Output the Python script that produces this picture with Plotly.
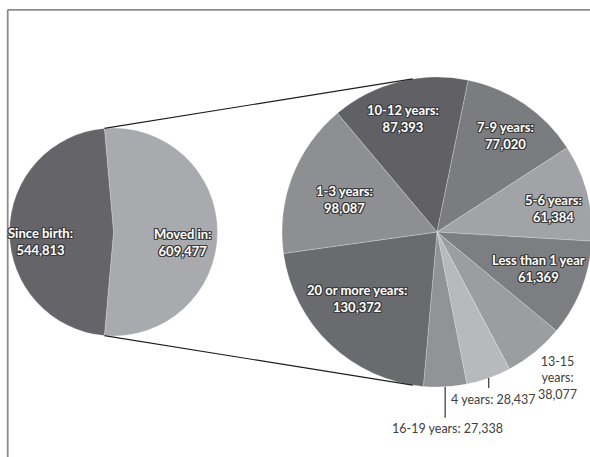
import math
import plotly.graph_objects as go

# ---- data ----
main_labels = ["Moved in", "Since birth"]
main_values = [609477, 544813]
main_text = ["Moved in:<br>609,477", "Since birth:<br>544,813"]

sub_labels = ["10-12 years", "7-9 years", "5-6 years", "Less than 1 year",
              "13-15 years", "4 years", "16-19 years", "20 or more years", "1-3 years"]
sub_values = [87393, 77020, 61384, 61369, 38077, 28437, 27338, 130372, 98087]
sub_text = ["10-12 years:<br>87,393", "7-9 years:<br>77,020", "5-6 years:<br>61,384",
            "Less than 1 year<br>61,369", "13-15<br>years:<br>38,077", "4 years: 28,437",
            "16-19 years: 27,338", "20 or more years:<br>130,372", "1-3 years:<br>98,087"]

# ---- styles / layout ----
W, H = 594, 457          # canvas slightly wider than the 590px window; overflow is hidden
LCX, LCY, LR = 113.5, 232, 104
RCX, RCY, RR = 437, 232, 155
main_colors = ["#a9aaad", "#646469"]
sub_colors = ["#606065", "#7b7c80", "#a2a3a6", "#7d7e82", "#9c9da0",
              "#b8b9bc", "#929396", "#6a6b6f", "#8e8f92"]
# label placement: (radius fraction, angle nudge in degrees) for inside labels
main_place = [(0.675, 8.2), (0.713, -7.7)]
sub_place = [(0.766, -2.2), (0.763, 1.3), (0.77, 3.3), (0.693, -1.6), None, None, None,
             (0.668, 6.6), (0.63, -1.5)]
# outside labels: slice index -> (text dx px, text dy px, leader length px)
outside_place = {4: (23, 26, 0), 5: (4.8, 21, 10), 6: (2.6, 42, 31)}
FONT = "Lato"
OUTLINE = "#3a3a3c"
shadow = ", ".join(f"{dx}px {dy}px 0px {OUTLINE}" for dx in (-1, 0, 1) for dy in (-1, 0, 1) if dx or dy)
inner_font = dict(family=FONT, size=13, color="white", weight="bold", shadow=shadow)
outer_font = dict(family=FONT, size=12.5, color="#404040")


def dom(cx, cy, r):
    return dict(x=[(cx - r) / W, min(1.0, (cx + r) / W)], y=[(H - cy - r) / H, (H - cy + r) / H])


def pxpt(cx, cy, r, ang):
    a = math.radians(ang)
    return cx + r * math.sin(a), cy - r * math.cos(a)


def paper(x, y):
    return x / W, 1 - y / H


def mid_angles(values, rotation):
    tot = sum(values)
    out, cum = [], 0
    for v in values:
        out.append(rotation + 360 * (cum + v / 2) / tot)
        cum += v
    return out


def label(x, y, txt, font):
    return dict(x=x, y=y, xref="paper", yref="paper", text=txt, showarrow=False,
                xanchor="center", yanchor="middle", align="center", font=font)


total = sum(main_values)
moved_frac = main_values[0] / total
rot_left = 90 - 180 * moved_frac
rot_right = -40

fig = go.Figure()
fig.add_trace(go.Pie(
    labels=main_labels, values=main_values, textinfo="none",
    sort=False, direction="clockwise", rotation=rot_left, domain=dom(LCX, LCY, LR),
    marker=dict(colors=main_colors, line=dict(color="rgba(255,255,255,0.4)", width=0.6)),
    hoverinfo="label+value", showlegend=False,
))
fig.add_trace(go.Pie(
    labels=sub_labels, values=sub_values, textinfo="none",
    sort=False, direction="clockwise", rotation=rot_right, domain=dom(RCX, RCY, RR),
    marker=dict(colors=sub_colors, line=dict(color="rgba(255,255,255,0.4)", width=0.6)),
    hoverinfo="label+value", showlegend=False,
))

# connector lines between the two pies
lt = paper(*pxpt(LCX, LCY, LR, rot_left))
lb = paper(*pxpt(LCX, LCY, LR, rot_left + 360 * moved_frac))
rt = paper(*pxpt(RCX, RCY, RR, -9))
rb = paper(*pxpt(RCX, RCY, RR, 189))
shapes = [
    dict(type="line", xref="paper", yref="paper", x0=lt[0], y0=lt[1], x1=rt[0], y1=rt[1],
         line=dict(color="#1e1e1e", width=1.1)),
    dict(type="line", xref="paper", yref="paper", x0=lb[0], y0=lb[1], x1=rb[0], y1=rb[1],
         line=dict(color="#1e1e1e", width=1.1)),
    # chart frame
    dict(type="line", xref="paper", yref="paper", x0=7.7 / W, y0=1 - 9.8 / H, x1=1.05, y1=1 - 9.8 / H,
         line=dict(color="#8c8c8c", width=1.8)),
    dict(type="line", xref="paper", yref="paper", x0=7.7 / W, y0=1 - 9.8 / H, x1=7.7 / W, y1=-0.05,
         line=dict(color="#8c8c8c", width=1.8)),
]

annotations = []
for txt, ang, plc in zip(main_text, mid_angles(main_values, rot_left), main_place):
    x, y = paper(*pxpt(LCX, LCY, LR * plc[0], ang + plc[1]))
    annotations.append(label(x, y, txt, inner_font))

sub_mids = mid_angles(sub_values, rot_right)
for i, (txt, ang, plc) in enumerate(zip(sub_text, sub_mids, sub_place)):
    if plc is not None:
        x, y = paper(*pxpt(RCX, RCY, RR * plc[0], ang + plc[1]))
        annotations.append(label(x, y, txt, inner_font))
    else:
        ox, oy, ln = outside_place[i]
        ex, ey = pxpt(RCX, RCY, RR, ang)
        x, y = paper(ex + ox, ey + oy)
        annotations.append(label(x, y, txt, outer_font))
        if ln:
            a = paper(ex, ey)
            b = paper(ex, ey + ln)
            shapes.append(dict(type="line", xref="paper", yref="paper", x0=a[0], y0=a[1],
                               x1=b[0], y1=b[1], line=dict(color="#404040", width=1.3)))

fig.update_layout(
    width=W, height=H, margin=dict(l=0, r=0, t=0, b=0),
    paper_bgcolor="white", plot_bgcolor="white",
    shapes=shapes, annotations=annotations,
)
fig.write_html("out.html", config={"displayModeBar": False},
               post_script="document.body.style.margin='0';document.body.style.overflow='hidden';")
